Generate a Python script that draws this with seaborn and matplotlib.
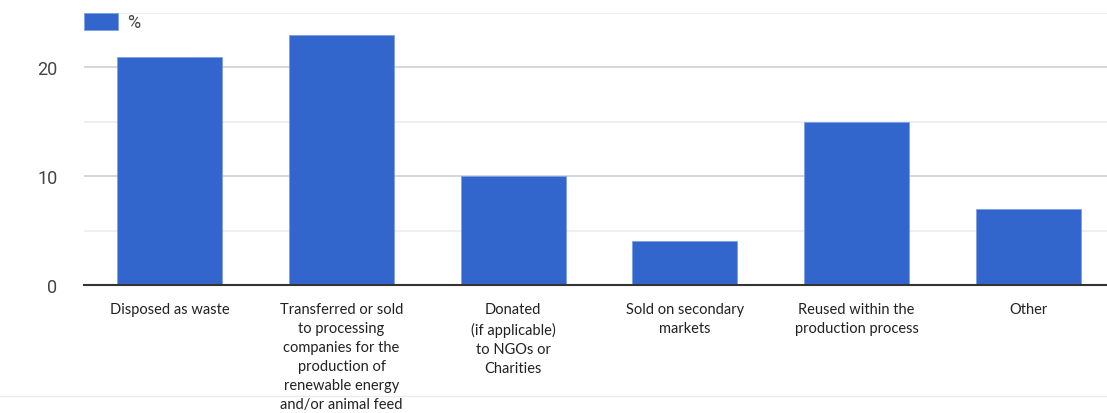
import matplotlib
matplotlib.use("Agg")
import matplotlib.pyplot as plt
import seaborn as sns
import pandas as pd
from matplotlib.lines import Line2D
from matplotlib.patches import Rectangle

categories = [
    "Disposed as waste",
    "Transferred or sold\nto processing\ncompanies for the\nproduction of\nrenewable energy\nand/or animal feed",
    "Donated\n(if applicable)\nto NGOs or\nCharities",
    "Sold on secondary\nmarkets",
    "Reused within the\nproduction process",
    "Other",
]
values = [21, 23, 10, 4, 15, 7]
series_name = "%"
bar_color = "#3366CC"

sns.set_theme(style="white")
plt.rcParams['font.family'] = ['Roboto', 'DejaVu Sans']

df = pd.DataFrame({"cat": categories, "val": values})

fig = plt.figure(figsize=(11.07, 4.14), dpi=100)
W, H = 1107, 414
ax = fig.add_axes([84 / W, 1 - 286 / H, (1114 - 84) / W, (286 - 14) / H])

sns.barplot(data=df, x="cat", y="val", color=bar_color, width=0.61,
            saturation=1, edgecolor="#7f9fe6", linewidth=0.6, ax=ax, zorder=3)

ax.set_ylim(0, 25)
ax.set_xlim(-0.5, len(categories) - 0.5)
ax.set_yticks([0, 10, 20])
ax.set_yticks([5, 15, 25], minor=True)
ax.grid(axis="y", which="major", color="#cccccc", linewidth=1.1, zorder=0)
ax.grid(axis="y", which="minor", color="#ebebeb", linewidth=1.1, zorder=0)
ax.set_axisbelow(True)
for s in ["top", "right", "left"]:
    ax.spines[s].set_visible(False)
ax.spines["bottom"].set_color("#333333")
ax.spines["bottom"].set_linewidth(1.5)
ax.spines["bottom"].set_zorder(4)

ax.set_xlabel("")
ax.set_ylabel("")
ax.tick_params(axis="y", which="both", length=0, pad=19, labelsize=13, labelcolor="#444444")
ax.tick_params(axis="x", length=0, pad=12.5)
ax.set_xticks(range(len(categories)))
ax.set_xticklabels(categories, fontsize=10.5, color="#222222",
                   family=["Lato", "DejaVu Sans"], linespacing=1.45, va="top")

# legend
fig.patches.append(Rectangle((84 / W, 1 - 31 / H), 34 / W, 17 / H,
                             transform=fig.transFigure, facecolor=bar_color,
                             edgecolor="#7f9fe6", linewidth=0.6, zorder=5))
fig.text(127 / W, 1 - 23 / H, series_name, fontsize=13, color="#444444",
         va="center", ha="left")

# bottom separator line
fig.add_artist(Line2D([0, 1], [1 - 397 / H, 1 - 397 / H], transform=fig.transFigure,
                      color="#ebebeb", linewidth=1))

fig.savefig("out.png", dpi=100)
